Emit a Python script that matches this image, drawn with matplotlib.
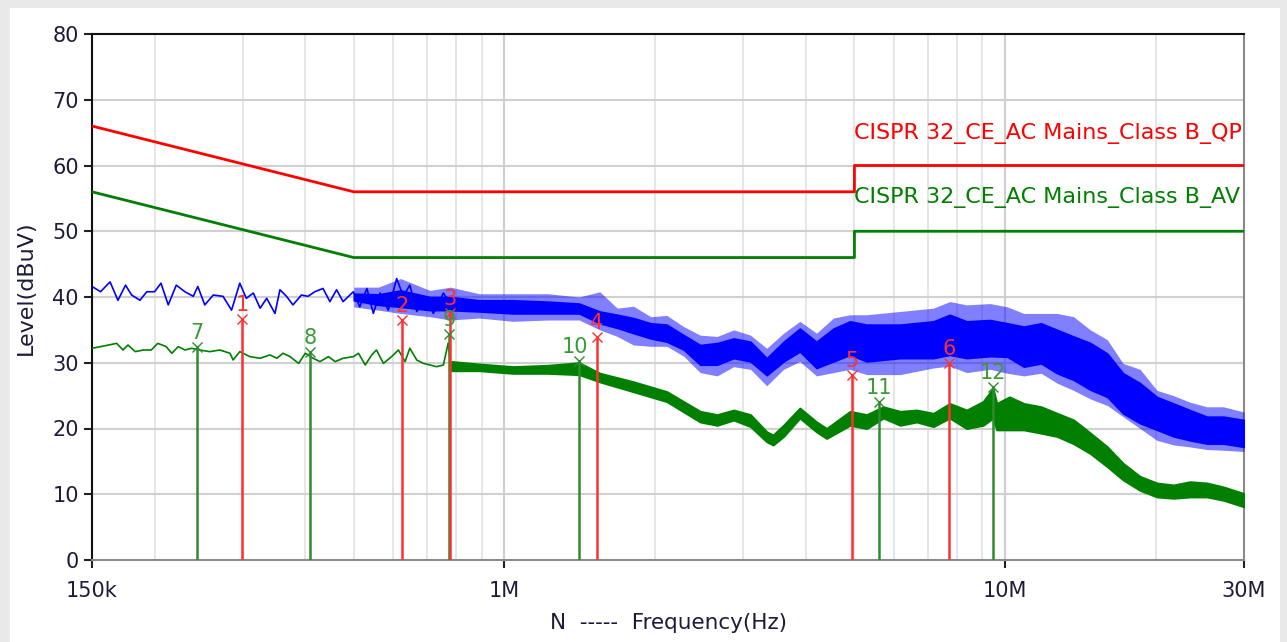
"""
Conducted emission scan, N line, 150 kHz - 30 MHz
CISPR 32 Class B QP / AV limits with peak and average traces.
"""

import matplotlib
matplotlib.use("Agg")
import matplotlib.pyplot as plt
from matplotlib.patches import Rectangle
from matplotlib.ticker import FixedLocator, NullFormatter

plt.rcParams["font.family"] = ["DejaVu Sans"]

# ================================================================
# DATA (frequencies in MHz, levels in dBuV)
# ================================================================

# limit lines
qp_lim_f = [0.15, 0.5, 5.0, 5.0, 30.0]
qp_lim_db = [66, 56, 56, 60, 60]
av_lim_f = [0.15, 0.5, 5.0, 5.0, 30.0]
av_lim_db = [56, 46, 46, 50, 50]

# peak trace, low band (thin zigzag)
peak_line_f = [0.150, 0.156, 0.163, 0.169, 0.175, 0.180, 0.187, 0.193, 0.200, 0.206,
               0.213, 0.221, 0.230, 0.239, 0.244, 0.252, 0.262, 0.274, 0.285, 0.296,
               0.305, 0.315, 0.325, 0.335, 0.348, 0.356, 0.367, 0.378, 0.393, 0.405,
               0.418, 0.434, 0.448, 0.462, 0.476, 0.499, 0.514, 0.531, 0.547, 0.564,
               0.586, 0.609, 0.628, 0.647, 0.668, 0.699, 0.721, 0.755, 0.778]
peak_line_db = [41.6, 40.8, 42.3, 39.5, 41.8, 40.3, 39.5, 40.8, 40.8, 42.1,
                38.8, 41.8, 40.8, 40.1, 41.6, 38.8, 40.3, 40.1, 38.0, 42.1,
                39.8, 40.6, 38.3, 39.8, 37.5, 41.1, 40.1, 38.8, 40.3, 40.1,
                40.8, 41.3, 39.3, 41.1, 39.3, 40.8, 38.5, 41.3, 37.5, 40.6,
                38.0, 42.8, 40.1, 41.8, 37.8, 39.8, 37.5, 40.6, 39.0]

# peak trace, dense part: solid core and spike envelope
peak_band_f = [0.50, 0.56, 0.62, 0.71, 0.78, 0.89, 1.04, 1.22, 1.41, 1.55,
               1.68, 1.81, 1.96, 2.11, 2.28, 2.46, 2.66, 2.87, 3.10, 3.34,
               3.61, 3.89, 4.20, 4.54, 4.90, 5.29, 6.17, 7.19, 7.75, 8.38,
               9.33, 10.1, 10.9, 11.8, 12.7, 13.7, 14.8, 16.0, 17.2, 18.6,
               20.1, 21.7, 23.4, 25.3, 27.3, 30.0]
peak_core_lo = [39.5, 38.8, 38.5, 38.0, 38.0, 37.8, 37.5, 37.5, 37.5, 36.0,
                35.3, 34.5, 33.7, 33.2, 32.0, 29.7, 29.7, 30.7, 30.2, 28.1,
                30.2, 31.7, 29.2, 30.2, 31.2, 30.2, 30.7, 30.7, 31.2, 30.7,
                31.0, 30.9, 29.4, 29.9, 28.4, 27.4, 25.9, 24.8, 22.3, 20.8,
                19.8, 18.8, 18.2, 17.7, 17.7, 17.2]
peak_core_hi = [40.5, 40.4, 41.0, 40.0, 40.0, 39.5, 39.5, 39.3, 39.0, 37.8,
                37.3, 36.8, 36.0, 35.8, 34.2, 32.7, 33.0, 33.7, 33.2, 30.7,
                33.2, 35.2, 33.2, 35.2, 36.3, 35.8, 35.8, 36.3, 37.3, 36.3,
                36.5, 36.0, 35.5, 36.0, 35.0, 34.0, 33.0, 31.4, 28.4, 26.9,
                24.8, 23.8, 22.8, 21.8, 21.8, 21.3]
peak_spike_lo = [38.5, 38.0, 37.5, 37.0, 36.5, 36.8, 36.3, 36.5, 36.5, 35.0,
                 34.0, 32.7, 32.5, 32.5, 31.0, 28.5, 28.0, 29.4, 29.0, 26.5,
                 29.0, 30.2, 28.0, 28.5, 29.0, 28.2, 28.2, 29.2, 29.5, 28.5,
                 29.0, 28.4, 28.0, 28.4, 26.9, 25.8, 24.5, 23.5, 21.8, 20.0,
                 18.2, 17.5, 17.2, 16.8, 16.7, 16.5]
peak_spike_hi = [41.5, 41.5, 42.8, 41.0, 41.5, 40.5, 40.5, 40.5, 40.0, 40.8,
                 38.3, 38.6, 37.0, 37.2, 35.5, 34.2, 34.0, 35.0, 34.2, 32.2,
                 34.5, 36.3, 34.5, 36.8, 37.3, 37.3, 37.8, 38.3, 39.3, 38.8,
                 39.0, 38.5, 37.5, 37.5, 37.5, 37.0, 35.0, 33.5, 29.9, 29.0,
                 25.8, 25.0, 24.0, 23.3, 23.3, 22.5]

# average trace, low band
avg_line_f = [0.150, 0.156, 0.162, 0.168, 0.173, 0.177, 0.183, 0.190, 0.197, 0.203,
              0.211, 0.2165, 0.223, 0.230, 0.237, 0.246, 0.258, 0.270, 0.283, 0.287,
              0.296, 0.310, 0.325, 0.340, 0.351, 0.361, 0.373, 0.388, 0.400, 0.415,
              0.428, 0.445, 0.459, 0.476, 0.499, 0.511, 0.527, 0.543, 0.555, 0.573,
              0.595, 0.614, 0.633, 0.647, 0.668, 0.689, 0.710, 0.732, 0.755, 0.772,
              0.780]
avg_line_db = [32.2, 32.45, 32.7, 32.95, 31.94, 32.7, 31.69, 31.94, 31.94, 32.95,
               32.45, 31.44, 32.45, 31.94, 32.2, 31.94, 31.69, 31.94, 31.44, 30.42,
               31.69, 30.93, 30.68, 31.19, 30.68, 31.44, 30.93, 29.9, 31.44, 30.68,
               30.17, 30.93, 30.17, 30.68, 30.93, 31.44, 29.66, 31.19, 31.94, 29.9,
               30.93, 31.94, 30.17, 32.2, 30.42, 29.9, 29.66, 29.4, 29.66, 33.0,
               30.0]

# average trace, dense part
avg_band_f = [0.78, 0.89, 1.04, 1.22, 1.41, 1.55, 1.81, 2.11, 2.46, 2.66,
              2.87, 3.10, 3.34, 3.44, 3.61, 3.89, 4.20, 4.40, 4.90, 5.29,
              5.71, 6.17, 6.66, 7.19, 7.75, 8.38, 9.04, 9.46, 9.62, 10.2,
              10.9, 11.8, 12.7, 13.7, 14.8, 16.0, 17.2, 18.6, 20.1, 21.7,
              23.4, 25.3, 27.3, 30.0]
avg_band_lo = [28.8, 28.8, 28.4, 28.4, 28.2, 27.1, 25.6, 24.1, 21.0, 20.5,
               21.3, 20.3, 18.0, 17.5, 18.8, 21.6, 19.5, 18.5, 20.5, 20.0,
               21.6, 20.5, 21.0, 20.3, 21.6, 20.0, 20.5, 21.6, 19.8, 19.8,
               19.8, 19.3, 18.8, 17.7, 16.2, 14.2, 12.2, 10.6, 9.6, 9.4,
               9.6, 9.6, 9.1, 8.1]
avg_band_hi = [30.2, 29.8, 29.4, 29.6, 30.0, 28.4, 27.1, 25.6, 22.6, 22.1,
               22.8, 22.1, 19.5, 19.0, 20.5, 23.1, 21.0, 20.0, 22.6, 22.1,
               23.3, 22.6, 22.8, 22.3, 23.8, 22.8, 24.1, 26.1, 23.8, 24.8,
               23.8, 23.3, 22.3, 21.3, 19.3, 17.2, 14.7, 12.7, 11.7, 11.4,
               11.9, 11.7, 11.1, 10.1]

# final measurement markers
qp_mark_f = [0.299, 0.624, 0.779, 1.53, 4.95, 7.73]
qp_mark_db = [36.6, 36.5, 37.6, 33.9, 28.1, 30.0]
qp_mark_lbl = ["1", "2", "3", "4", "5", "6"]
av_mark_f = [0.243, 0.409, 0.776, 1.41, 5.60, 9.46]
av_mark_db = [32.4, 31.6, 34.4, 30.2, 24.0, 26.3]
av_mark_lbl = ["7", "8", "9", "10", "11", "12"]

x_ticks = [0.15, 1.0, 10.0, 30.0]
x_tick_lbl = ["150k", "1M", "10M", "30M"]
x_minor = [0.2, 0.3, 0.4, 0.5, 0.6, 0.7, 0.8, 0.9,
           2, 3, 4, 5, 6, 7, 8, 9, 20]
y_ticks = list(range(0, 81, 10))

QP_LABEL = "CISPR 32_CE_AC Mains_Class B_QP"
AV_LABEL = "CISPR 32_CE_AC Mains_Class B_AV"

C_RED = "#ff0000"
C_GREEN = "#007f00"
C_BLUE = "#0000ff"
C_MARK_RED = "#ff3030"
C_MARK_GREEN = "#2e8b2e"
C_LBL_GREEN = "#3a9a3a"
C_TEXT = "#1c1c3a"


def mhz(vals):
    return [v * 1e6 for v in vals]


# ================================================================
# PLOT
# ================================================================

fig = plt.figure(figsize=(12.87, 6.42), dpi=100)
fig.patch.set_facecolor("#e9e9e9")
fig.add_artist(Rectangle((10 / 1287, 0), 1270 / 1287, 634 / 642,
                         transform=fig.transFigure, facecolor="white",
                         edgecolor="none", zorder=-10))

ax = fig.add_axes([92 / 1287, 82 / 642, 1152 / 1287, 526 / 642])
ax.set_zorder(1)
ax.set_xscale("log")
ax.set_xlim(0.15e6, 30e6)
ax.set_ylim(0, 80)

# grid
ax.xaxis.set_major_locator(FixedLocator(mhz(x_ticks)))
ax.xaxis.set_minor_locator(FixedLocator(mhz(x_minor)))
ax.xaxis.set_minor_formatter(NullFormatter())
ax.set_xticklabels(x_tick_lbl)
ax.set_yticks(y_ticks)
for f in x_minor:
    ax.axvline(f * 1e6, color="#e2e2e2", lw=1.2, zorder=1)
for f in [1.0, 10.0]:
    ax.axvline(f * 1e6, color="#cfcfcf", lw=1.5, zorder=1)
for y in y_ticks[1:-1]:
    ax.axhline(y, color="#d0d0d0", lw=1.5, zorder=1)

# limits
ax.plot(mhz(qp_lim_f), qp_lim_db, color=C_RED, lw=2, zorder=3)
ax.plot(mhz(av_lim_f), av_lim_db, color=C_GREEN, lw=2, zorder=3)
ax.text(5.0e6, 64.9, QP_LABEL, color=C_RED, fontsize=16, ha="left", va="center")
ax.text(5.0e6, 55.1, AV_LABEL, color=C_GREEN, fontsize=16, ha="left", va="center")

# traces
ax.plot(mhz(peak_line_f), peak_line_db, color=C_BLUE, lw=1.2, zorder=4)
ax.fill_between(mhz(peak_band_f), peak_spike_lo, peak_spike_hi,
                color=C_BLUE, alpha=0.5, lw=0, zorder=4)
ax.fill_between(mhz(peak_band_f), peak_core_lo, peak_core_hi,
                color=C_BLUE, lw=1.2, zorder=4)
ax.plot(mhz(avg_line_f), avg_line_db, color=C_GREEN, lw=1.2, zorder=5)
ax.fill_between(mhz(avg_band_f), avg_band_lo, avg_band_hi,
                color=C_GREEN, lw=1.5, zorder=5)

# markers
for f, db, lbl in zip(av_mark_f, av_mark_db, av_mark_lbl):
    ax.vlines(f * 1e6, 0, db, color=C_MARK_GREEN, lw=1.8, zorder=6)
    ax.plot(f * 1e6, db, marker="x", color=C_MARK_GREEN, ms=7, mew=1, zorder=7)
    ax.annotate(lbl, (f * 1e6, db), xytext=(-3 if lbl == "10" else 0, 3),
                textcoords="offset points", ha="center", va="bottom",
                color=C_LBL_GREEN, fontsize=15, zorder=8)
for f, db, lbl in zip(qp_mark_f, qp_mark_db, qp_mark_lbl):
    ax.vlines(f * 1e6, 0, db, color=C_MARK_RED, lw=1.8, zorder=6)
    ax.plot(f * 1e6, db, marker="x", color=C_MARK_RED, ms=7, mew=1, zorder=7)
    ax.annotate(lbl, (f * 1e6, db), xytext=(0, 3),
                textcoords="offset points", ha="center", va="bottom",
                color=C_MARK_RED, fontsize=15, zorder=8)

# axes styling
for side in ["left", "top"]:
    ax.spines[side].set_color("#111111")
    ax.spines[side].set_linewidth(1.5)
for side in ["right", "bottom"]:
    ax.spines[side].set_color("#8a8a8a")
    ax.spines[side].set_linewidth(1.5)
ax.tick_params(axis="both", which="major", direction="out", length=6,
               width=1.5, color="#222222", labelsize=15, labelcolor=C_TEXT)
ax.tick_params(axis="x", which="minor", length=0)
ax.tick_params(axis="x", which="major", pad=9)

ax.set_ylabel("Level(dBuV)", fontsize=16, color=C_TEXT)
ax.yaxis.set_label_coords(-0.0486, 0.517)
ax.set_xlabel("N  -----  Frequency(Hz)", fontsize=15.5, color=C_TEXT, labelpad=9)

fig.savefig("out.png", dpi=100, facecolor=fig.get_facecolor())
